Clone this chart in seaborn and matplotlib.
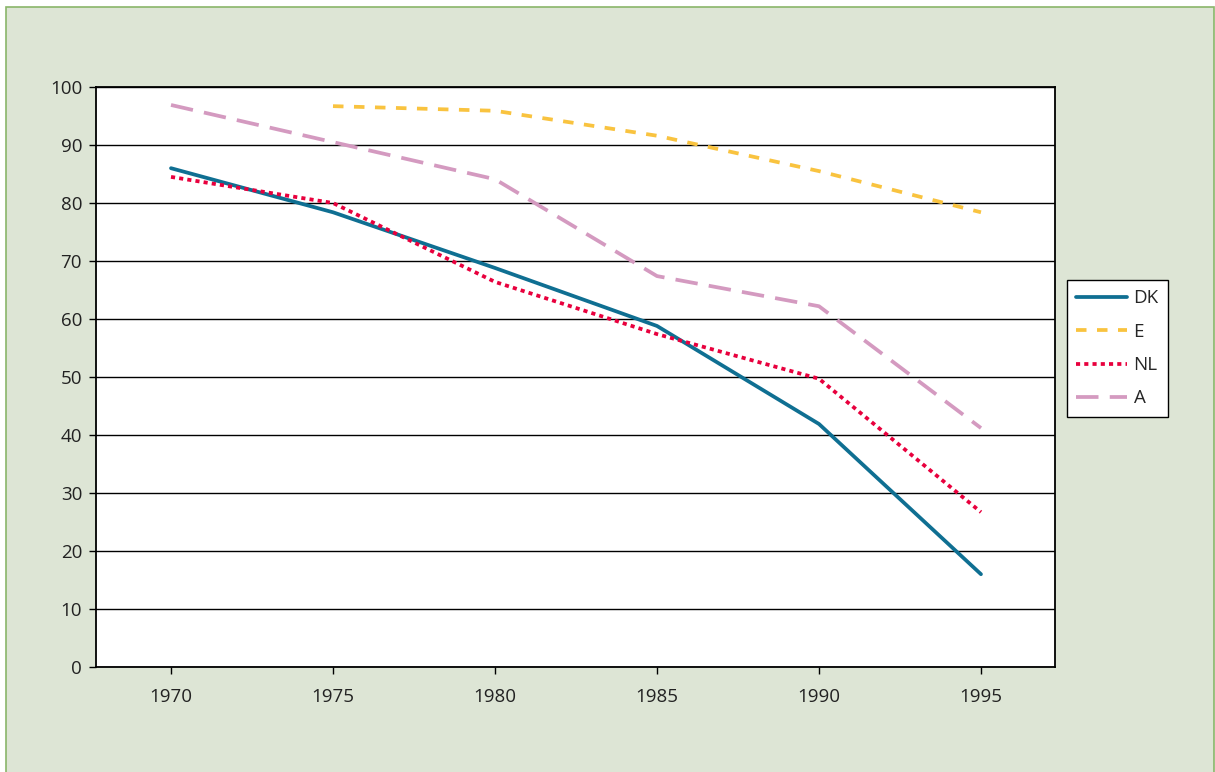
import matplotlib
matplotlib.use("Agg")
import matplotlib.pyplot as plt
import seaborn as sns
import pandas as pd
import numpy as np
from matplotlib.patches import Rectangle

years = ["1970", "1975", "1980", "1985", "1990", "1995"]
dk = [86.0, 78.4, 68.8, 58.8, 41.9, 16.0]
e = [np.nan, 96.7, 95.9, 91.6, 85.5, 78.4]
nl = [84.5, 80.0, 66.4, 57.4, 49.7, 26.7]
a = [96.9, 90.5, 84.1, 67.4, 62.2, 41.2]

series = {"DK": dk, "E": e, "NL": nl, "A": a}
colors = {"DK": "#0f6f92", "E": "#f9c33f", "NL": "#e8003d", "A": "#d49ac0"}
dashes = {"DK": None, "E": (2.8, 2.8), "NL": (1.1, 1.1), "A": (6, 3)}

sns.set_theme(style="white")
plt.rcParams["font.family"] = ["Open Sans", "DejaVu Sans"]

fig = plt.figure(figsize=(12.15, 7.72), dpi=100)
fig.patch.set_facecolor("white")
fig.add_artist(Rectangle((6 / 1215, -0.01), 1208 / 1215, 1 - 7 / 772 + 0.01,
                         transform=fig.transFigure, facecolor="#dde5d5",
                         edgecolor="#8ab56a", linewidth=1.2, zorder=-10))

ax = fig.add_axes([96 / 1215, 1 - 667 / 772, (1055 - 96) / 1215, (667 - 87) / 772])
ax.set_facecolor("white")

x = np.arange(len(years))
for name, vals in series.items():
    df = pd.DataFrame({"x": x, "y": vals}).dropna()
    ls = "-" if dashes[name] is None else (0, dashes[name])
    sns.lineplot(data=df, x="x", y="y", ax=ax, color=colors[name], linewidth=2.7,
                 linestyle=ls, label=name)

ax.set_xlim(-0.463, 5.457)
ax.set_ylim(0, 100)
ax.set_yticks(np.arange(0, 101, 10))
ax.set_xticks(x)
ax.set_xticklabels(years)
ax.set_xlabel("")
ax.set_ylabel("")
ax.yaxis.grid(True, color="black", linewidth=1.0)
ax.xaxis.grid(False)
for s in ax.spines.values():
    s.set_color("black")
    s.set_linewidth(1.3)
ax.tick_params(axis="both", which="both", direction="out", length=5, width=1,
               color="black", labelsize=13.5, labelcolor="#222222", pad=5, left=True, bottom=True)
ax.tick_params(axis="x", pad=10)

ax.get_legend().remove()
handles, labels = ax.get_legend_handles_labels()
leg = fig.legend(handles, labels, loc="upper left", bbox_to_anchor=(1067 / 1215, 1 - 280 / 772),
                 borderaxespad=0.0,
                 frameon=True, fontsize=13.5, handlelength=2.7, labelspacing=0.82,
                 borderpad=0.5, handletextpad=0.35, fancybox=False, framealpha=1.0)
leg.get_frame().set_edgecolor("black")
leg.get_frame().set_linewidth(1.0)
leg.get_frame().set_facecolor("white")

fig.savefig("out.png", dpi=100, facecolor=fig.get_facecolor())
